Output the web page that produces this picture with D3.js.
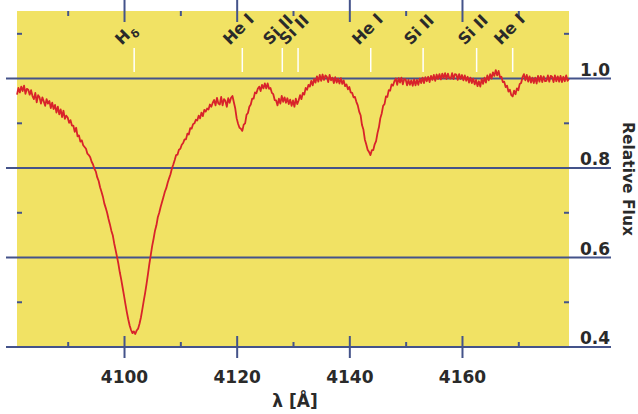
<!DOCTYPE html>
<html>
<head>
<meta charset="utf-8">
<script src="https://cdn.jsdelivr.net/npm/d3@7"></script>
<style>
  html, body { margin: 0; padding: 0; background: #ffffff; }
  #wrap { position: relative; width: 638px; height: 414px; }
  svg { display: block; }
  text { font-family: "DejaVu Sans", sans-serif; font-weight: bold; fill: #2a2a2a; }
  .line-label {
    position: absolute; white-space: nowrap;
    font-family: "DejaVu Sans", sans-serif; font-weight: bold; font-size: 16px;
    line-height: 16px; color: #2a2a2a;
    transform-origin: 0 0;
  }
  .line-label .sub { font-size: 11px; position: relative; top: 5px; margin-left: 1px; }
</style>
</head>
<body>
<div id="wrap">
<svg id="chart" width="638" height="414"></svg>
<div id="labels"></div>
</div>
<script>
// Spectrum sampling grid (Å)
const lambdaStart = 4081.0;
const lambdaStep = 0.25;

// Normalised flux, one row per two Ångström (4 samples per Å)
const flux = [
  0.964, 0.979, 0.969, 0.982,  0.972, 0.984, 0.966, 0.977,  // 4081-4082
  0.975, 0.964, 0.974, 0.961,  0.954, 0.968, 0.947, 0.963,  // 4083-4084
  0.958, 0.944, 0.958, 0.949,  0.939, 0.954, 0.944, 0.950,  // 4085-4086
  0.934, 0.946, 0.932, 0.941,  0.924, 0.937, 0.920, 0.931,  // 4087-4088
  0.914, 0.928, 0.910, 0.917,  0.913, 0.901, 0.907, 0.895,  // 4089-4090
  0.895, 0.881, 0.890, 0.871,  0.873, 0.859, 0.862, 0.851,  // 4091-4092
  0.847, 0.843, 0.832, 0.829,  0.824, 0.814, 0.808, 0.798,  // 4093-4094
  0.792, 0.779, 0.771, 0.757,  0.747, 0.736, 0.721, 0.711,  // 4095-4096
  0.700, 0.686, 0.674, 0.660,  0.650, 0.632, 0.617, 0.602,  // 4097-4098
  0.586, 0.567, 0.551, 0.533,  0.515, 0.496, 0.478, 0.462,  // 4099-4100
  0.448, 0.438, 0.431, 0.435,  0.429, 0.437, 0.441, 0.452,  // 4101-4102
  0.466, 0.484, 0.503, 0.521,  0.541, 0.563, 0.586, 0.606,  // 4103-4104
  0.626, 0.642, 0.660, 0.672,  0.690, 0.700, 0.713, 0.724,  // 4105-4106
  0.735, 0.747, 0.755, 0.767,  0.777, 0.786, 0.799, 0.808,  // 4107-4108
  0.818, 0.829, 0.830, 0.841,  0.843, 0.852, 0.856, 0.864,  // 4109-4110
  0.864, 0.877, 0.875, 0.889,  0.888, 0.898, 0.900, 0.908,  // 4111-4112
  0.906, 0.917, 0.911, 0.924,  0.916, 0.930, 0.926, 0.933,  // 4113-4114
  0.931, 0.942, 0.937, 0.946,  0.952, 0.940, 0.957, 0.944,  // 4115-4116
  0.942, 0.959, 0.940, 0.954,  0.950, 0.937, 0.956, 0.946,  // 4117-4118
  0.957, 0.961, 0.947, 0.933,  0.911, 0.899, 0.890, 0.888,  // 4119-4120
  0.883, 0.897, 0.900, 0.919,  0.923, 0.937, 0.942, 0.955,  // 4121-4122
  0.955, 0.969, 0.967, 0.977,  0.982, 0.972, 0.986, 0.978,  // 4123-4124
  0.989, 0.978, 0.989, 0.977,  0.979, 0.968, 0.965, 0.952,  // 4125-4126
  0.951, 0.940, 0.955, 0.944,  0.961, 0.948, 0.958, 0.946,  // 4127-4128
  0.956, 0.943, 0.953, 0.939,  0.951, 0.937, 0.955, 0.943,  // 4129-4130
  0.951, 0.963, 0.954, 0.968,  0.964, 0.979, 0.975, 0.986,  // 4131-4132
  0.982, 0.995, 0.985, 0.999,  0.991, 1.005, 0.993, 1.008,  // 4133-4134
  0.995, 1.009, 0.997, 1.007,  1.004, 0.992, 1.008, 0.996,  // 4135-4136
  1.002, 0.990, 1.003, 0.991,  1.000, 0.989, 1.001, 0.988,  // 4137-4138
  0.996, 0.983, 0.987, 0.976,  0.981, 0.969, 0.968, 0.958,  // 4139-4140
  0.959, 0.948, 0.940, 0.926,  0.918, 0.896, 0.886, 0.864,  // 4141-4142
  0.853, 0.841, 0.836, 0.829,  0.840, 0.840, 0.853, 0.860,  // 4143-4144
  0.878, 0.891, 0.911, 0.922,  0.939, 0.943, 0.960, 0.959,  // 4145-4146
  0.974, 0.973, 0.987, 0.984,  0.994, 1.000, 0.986, 1.001,  // 4147-4148
  0.991, 1.002, 0.987, 0.999,  0.998, 0.985, 0.997, 0.986,  // 4149-4150
  0.996, 0.984, 0.998, 0.985,  0.997, 0.986, 1.000, 0.990,  // 4151-4152
  1.002, 0.990, 1.003, 0.994,  1.004, 0.992, 1.006, 0.997,  // 4153-4154
  1.008, 0.995, 1.009, 0.999,  1.010, 0.998, 1.011, 1.001,  // 4155-4156
  1.012, 0.999, 1.011, 1.001,  1.000, 1.012, 0.999, 1.010,  // 4157-4158
  1.009, 0.997, 1.010, 0.999,  1.008, 0.996, 1.007, 0.995,  // 4159-4160
  1.004, 0.991, 1.002, 0.990,  1.000, 0.987, 0.997, 0.983,  // 4161-4162
  0.994, 0.982, 0.999, 0.988,  1.002, 0.991, 1.007, 0.996,  // 4163-4164
  1.010, 1.000, 1.014, 1.006,  1.019, 1.007, 1.017, 1.003,  // 4165-4166
  1.004, 0.992, 0.993, 0.981,  0.984, 0.971, 0.975, 0.963,  // 4167-4168
  0.960, 0.973, 0.965, 0.978,  0.974, 0.988, 0.990, 1.003,  // 4169-4170
  1.010, 0.996, 1.008, 0.993,  1.005, 0.991, 1.002, 0.990,  // 4171-4172
  1.002, 0.989, 1.006, 0.993,  1.006, 0.992, 1.005, 0.994,  // 4173-4174
  0.995, 1.007, 0.993, 1.006,  1.004, 0.992, 1.007, 0.994,  // 4175-4176
  1.005, 0.993, 1.006, 0.992,  1.004, 0.994, 1.007, 0.995,  // 4177-4178
  0.999                                                      // 4179
];

// Identified absorption lines
const lineNames = ["H", "He I", "Si II", "Si II", "He I", "Si II", "Si II", "He I"];
const lineSubscripts = ["δ", "", "", "", "", "", "", ""];
const lineWavelengths = [4101.8, 4121.0, 4128.1, 4130.9, 4143.8, 4153.1, 4162.6, 4169.0];

// Axis ticks
const xMajorTicks = [4100, 4120, 4140, 4160];
const xMinorTicks = [4090, 4110, 4130, 4150, 4170];
const yMajorTicks = [1.0, 0.8, 0.6, 0.4];
const yMinorTicks = [1.1, 0.9, 0.7, 0.5];

const svg = d3.select("#chart");
const plotLeft = 17, plotRight = 569, plotTop = 11, plotBottom = 347;

const x = d3.scaleLinear().domain([4081, 4179]).range([plotLeft, plotRight]);
const y = d3.scaleLinear().domain([0.4, 1.151]).range([plotBottom, plotTop]);

const bg = "#f1e264";
const axisColor = "#44538a";
const red = "#d8232a";

// Panel background
svg.append("rect")
  .attr("x", plotLeft).attr("y", plotTop)
  .attr("width", plotRight - plotLeft).attr("height", plotBottom - plotTop)
  .attr("fill", bg);

// Reference flux levels
svg.append("g").selectAll("line")
  .data(yMajorTicks)
  .join("line")
  .attr("x1", 6).attr("x2", 611)
  .attr("y1", d => y(d)).attr("y2", d => y(d))
  .attr("stroke", axisColor).attr("stroke-width", 2);

// Minor flux ticks on both sides of the panel
svg.append("g").selectAll("line")
  .data(yMinorTicks)
  .join("line")
  .attr("x1", plotLeft).attr("x2", plotLeft + 5)
  .attr("y1", d => y(d)).attr("y2", d => y(d))
  .attr("stroke", axisColor).attr("stroke-width", 2);
svg.append("g").selectAll("line")
  .data(yMinorTicks)
  .join("line")
  .attr("x1", plotRight - 5).attr("x2", plotRight)
  .attr("y1", d => y(d)).attr("y2", d => y(d))
  .attr("stroke", axisColor).attr("stroke-width", 2);

// Wavelength ticks (bottom and top)
function styleAxis(g) {
  g.select(".domain").remove();
  g.selectAll(".tick line").attr("stroke", axisColor).attr("stroke-width", 2);
  g.selectAll(".tick text")
    .attr("fill", "#2a2a2a")
    .style("font-family", "'DejaVu Sans', sans-serif")
    .style("font-weight", "bold")
    .style("font-size", "17px");
}
svg.append("g").attr("transform", `translate(0,${plotBottom - 11})`)
  .call(d3.axisBottom(x).tickValues(xMajorTicks).tickSize(22).tickPadding(13).tickFormat(d3.format("d")))
  .call(styleAxis);
svg.append("g").attr("transform", `translate(0,${plotBottom - 5})`)
  .call(d3.axisBottom(x).tickValues(xMinorTicks).tickSize(5).tickFormat(""))
  .call(styleAxis);
svg.append("g").attr("transform", "translate(0,0)")
  .call(d3.axisBottom(x).tickValues(xMajorTicks).tickSize(22).tickFormat(""))
  .call(styleAxis);
svg.append("g").attr("transform", `translate(0,${plotTop})`)
  .call(d3.axisBottom(x).tickValues(xMinorTicks).tickSize(5).tickFormat(""))
  .call(styleAxis);

// Flux labels on the right, sitting on their lines
svg.append("g").selectAll("text")
  .data(yMajorTicks)
  .join("text")
  .attr("x", 610).attr("y", d => y(d) - 3)
  .attr("text-anchor", "end")
  .style("font-size", "17px")
  .text(d => d3.format(".1f")(d));

// Axis titles
svg.append("text")
  .attr("x", 295).attr("y", 407)
  .attr("text-anchor", "middle")
  .style("font-size", "17px")
  .text("λ [Å]");
svg.append("text")
  .attr("transform", "translate(623,179) rotate(90)")
  .attr("text-anchor", "middle")
  .style("font-size", "15.5px")
  .text("Relative Flux");

// Line markers
const lines = lineWavelengths.map((w, i) => ({ w, name: lineNames[i], sub: lineSubscripts[i] }));
svg.append("g").selectAll("line")
  .data(lines)
  .join("line")
  .attr("x1", d => x(d.w)).attr("x2", d => x(d.w))
  .attr("y1", 48).attr("y2", 72)
  .attr("stroke", "#ffffff").attr("stroke-width", 1.5);

// Diagonal line identifications: baseline start sits up-left of each marker
const labelDivs = d3.select("#labels").selectAll("div")
  .data(lines)
  .join("div")
  .attr("class", "line-label")
  .style("left", d => (x(d.w) - 12) + "px")
  .style("top", "46px")
  .style("transform", "rotate(-45deg) translateY(-13.5px)");
labelDivs.append("span").text(d => d.name);
labelDivs.filter(d => d.sub).append("span")
  .attr("class", "sub")
  .text(d => d.sub);

// Spectrum
const spectrum = flux.map((f, i) => ({ w: lambdaStart + i * lambdaStep, f }));
svg.append("path")
  .datum(spectrum)
  .attr("fill", "none")
  .attr("stroke", red)
  .attr("stroke-width", 1.8)
  .attr("stroke-linejoin", "round")
  .attr("d", d3.line().x(d => x(d.w)).y(d => y(d.f)));
</script>
</body>
</html>
